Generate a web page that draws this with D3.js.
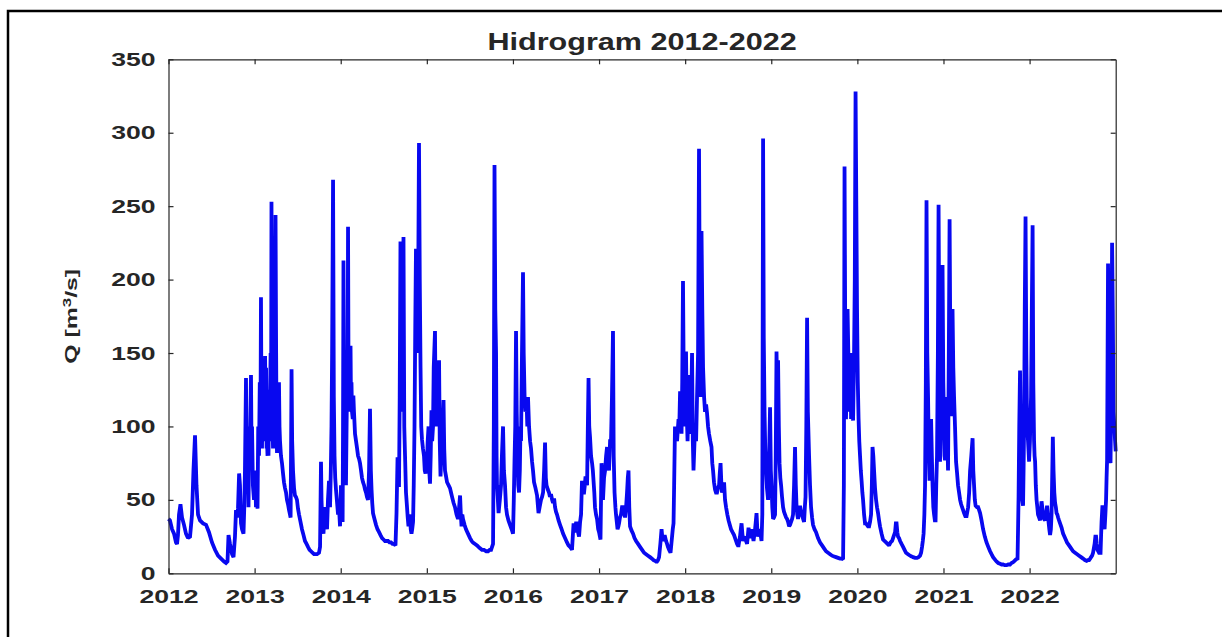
<!DOCTYPE html>
<html>
<head>
<meta charset="utf-8">
<script src="https://cdn.jsdelivr.net/npm/d3@7/dist/d3.min.js"></script>
<style>
  html, body { margin: 0; padding: 0; background: #fff; }
  svg { display: block; }
  text { font-family: "Liberation Sans", Arial, Helvetica, sans-serif; font-weight: bold; fill: #262626; }
</style>
</head>
<body>
<svg id="chart" width="1222" height="637"></svg>
<script>
// ---- labels / ticks ----
const titleText = "Hidrogram 2012-2022";
const yLabelMain = "Q [m";
const yLabelSup = "3";
const yLabelEnd = "/s]";
const xTickYears = [2012, 2013, 2014, 2015, 2016, 2017, 2018, 2019, 2020, 2021, 2022];
const yTickValues = [0, 50, 100, 150, 200, 250, 300, 350];
const xDomain = [2012, 2023];
const yDomain = [0, 350];

// ---- discharge Q [m3/s] by decimal year ----
const flow2012 = [
[2012.000,37],[2012.017,36],[2012.041,30],[2012.064,27],[2012.087,21],[2012.099,20],[2012.110,26],[2012.122,40],[2012.139,47],[2012.157,38],[2012.180,33],[2012.203,27],[2012.226,24],[2012.250,25],[2012.273,40],[2012.290,70],[2012.308,94],[2012.325,60],[2012.343,40],[2012.366,36],[2012.401,34],[2012.436,33],[2012.470,28],[2012.505,21],[2012.540,16],[2012.575,12],[2012.610,10],[2012.645,8],[2012.668,7],[2012.685,8],[2012.697,26],[2012.714,20],[2012.738,13],[2012.755,11],[2012.772,25],[2012.784,43],[2012.795,38],[2012.807,44],[2012.820,68],[2012.830,60],[2012.842,34],[2012.854,30],[2012.871,27],[2012.880,45],[2012.888,70],[2012.900,133],[2012.906,80],[2012.912,60],[2012.920,95],[2012.929,45],[2012.938,100],[2012.947,90],[2012.958,135],[2012.965,80],[2012.970,100],[2012.980,60],[2012.993,50]
];
const flow2013 = [
[2013.005,70],[2013.016,45],[2013.025,60],[2013.034,44],[2013.042,100],[2013.051,80],[2013.060,130],[2013.068,100],[2013.074,188],[2013.080,110],[2013.086,85],[2013.092,120],[2013.098,100],[2013.104,130],[2013.109,90],[2013.116,120],[2013.122,148],[2013.127,100],[2013.133,140],[2013.139,85],[2013.144,90],[2013.150,80],[2013.156,125],[2013.161,80],[2013.167,110],[2013.173,90],[2013.179,120],[2013.186,150],[2013.191,100],[2013.196,253],[2013.202,140],[2013.208,100],[2013.214,85],[2013.219,120],[2013.225,85],[2013.232,130],[2013.243,244],[2013.250,150],[2013.255,100],[2013.260,82],[2013.266,110],[2013.272,82],[2013.278,100],[2013.283,130],[2013.289,100],[2013.295,90],[2013.306,80],[2013.318,75],[2013.330,68],[2013.341,62],[2013.353,58],[2013.365,55],[2013.376,50],[2013.388,47],[2013.400,43],[2013.411,40],[2013.418,38],[2013.423,80],[2013.429,139],[2013.436,90],[2013.446,70],[2013.458,58],[2013.469,53],[2013.480,52],[2013.492,50],[2013.504,44],[2013.516,40],[2013.533,35],[2013.550,30],[2013.568,26],[2013.585,22],[2013.603,20],[2013.620,18],[2013.638,16],[2013.655,15],[2013.672,14],[2013.690,13],[2013.708,13],[2013.725,13],[2013.748,14],[2013.760,18],[2013.771,76],[2013.777,50],[2013.783,40],[2013.790,30],[2013.800,27],[2013.810,40],[2013.818,45],[2013.830,35],[2013.841,30],[2013.852,50],[2013.864,63],[2013.870,50],[2013.876,45],[2013.885,70],[2013.893,100],[2013.900,150],[2013.911,268],[2013.920,120],[2013.928,80],[2013.936,65],[2013.945,57],[2013.955,50],[2013.969,40],[2013.980,45],[2013.992,32]
];
const flow2014 = [
[2014.003,60],[2014.010,40],[2014.015,45],[2014.022,35],[2014.027,100],[2014.032,213],[2014.040,120],[2014.045,150],[2014.050,110],[2014.055,80],[2014.061,60],[2014.068,100],[2014.074,130],[2014.080,110],[2014.085,236],[2014.090,150],[2014.096,110],[2014.102,130],[2014.108,120],[2014.114,155],[2014.120,110],[2014.125,130],[2014.131,110],[2014.140,105],[2014.147,121],[2014.154,110],[2014.166,95],[2014.178,90],[2014.190,85],[2014.201,80],[2014.213,78],[2014.224,75],[2014.236,70],[2014.247,65],[2014.259,62],[2014.271,60],[2014.282,57],[2014.294,55],[2014.305,52],[2014.317,50],[2014.329,70],[2014.340,112],[2014.350,70],[2014.358,57],[2014.366,48],[2014.375,41],[2014.392,37],[2014.410,33],[2014.427,30],[2014.445,28],[2014.462,26],[2014.480,24],[2014.497,23],[2014.514,22],[2014.532,22],[2014.549,22],[2014.566,21],[2014.584,21],[2014.601,20],[2014.619,20],[2014.636,19],[2014.648,41],[2014.654,60],[2014.660,79],[2014.668,60],[2014.677,60],[2014.685,120],[2014.694,226],[2014.703,120],[2014.712,110],[2014.720,160],[2014.729,229],[2014.738,100],[2014.747,80],[2014.758,55],[2014.770,45],[2014.778,38],[2014.787,32],[2014.795,38],[2014.805,40],[2014.813,30],[2014.822,27],[2014.830,30],[2014.840,35],[2014.848,60],[2014.857,100],[2014.866,170],[2014.874,221],[2014.882,180],[2014.892,150],[2014.900,200],[2014.909,293],[2014.918,200],[2014.927,140],[2014.935,100],[2014.944,91],[2014.955,85],[2014.967,80],[2014.976,70],[2014.985,68]
];
const flow2015 = [
[2015.002,75],[2015.010,90],[2015.020,100],[2015.028,70],[2015.037,61],[2015.045,80],[2015.054,111],[2015.062,90],[2015.072,100],[2015.080,140],[2015.095,165],[2015.102,110],[2015.110,100],[2015.118,120],[2015.130,110],[2015.142,145],[2015.150,90],[2015.159,66],[2015.168,80],[2015.176,90],[2015.185,100],[2015.194,118],[2015.202,85],[2015.211,70],[2015.223,66],[2015.235,62],[2015.252,60],[2015.269,58],[2015.281,55],[2015.293,52],[2015.310,48],[2015.327,45],[2015.345,40],[2015.362,37],[2015.375,45],[2015.386,53],[2015.395,40],[2015.403,32],[2015.412,40],[2015.420,37],[2015.438,33],[2015.455,30],[2015.478,27],[2015.502,24],[2015.520,22],[2015.536,21],[2015.560,20],[2015.583,19],[2015.600,18],[2015.618,17],[2015.640,16],[2015.664,16],[2015.690,15],[2015.711,15],[2015.730,16],[2015.746,16],[2015.769,20],[2015.778,100],[2015.786,278],[2015.795,180],[2015.804,150],[2015.810,80],[2015.815,60],[2015.825,50],[2015.833,41],[2015.848,50],[2015.862,60],[2015.872,80],[2015.885,100],[2015.895,70],[2015.908,60],[2015.920,45],[2015.931,40],[2015.948,36],[2015.966,33],[2015.985,30]
];
const flow2016 = [
[2016.001,27],[2016.010,50],[2016.018,76],[2016.027,100],[2016.036,165],[2016.044,110],[2016.053,80],[2016.062,60],[2016.071,55],[2016.080,70],[2016.088,100],[2016.094,90],[2016.105,150],[2016.117,205],[2016.125,150],[2016.135,121],[2016.145,110],[2016.158,118],[2016.167,100],[2016.175,120],[2016.187,100],[2016.199,90],[2016.210,85],[2016.222,76],[2016.233,70],[2016.245,62],[2016.262,58],[2016.280,53],[2016.297,41],[2016.310,45],[2016.326,50],[2016.338,52],[2016.350,55],[2016.362,70],[2016.373,89],[2016.382,65],[2016.390,60],[2016.405,57],[2016.419,55],[2016.430,52],[2016.442,54],[2016.455,50],[2016.466,48],[2016.478,51],[2016.489,45],[2016.500,42],[2016.512,40],[2016.530,36],[2016.547,33],[2016.565,30],[2016.582,27],[2016.605,24],[2016.628,21],[2016.645,19],[2016.663,18],[2016.676,17],[2016.686,16],[2016.704,34],[2016.712,28],[2016.721,30],[2016.732,34],[2016.744,34],[2016.756,28],[2016.768,25],[2016.780,35],[2016.791,40],[2016.802,63],[2016.812,55],[2016.826,55],[2016.835,60],[2016.843,66],[2016.852,62],[2016.861,60],[2016.870,100],[2016.878,133],[2016.886,100],[2016.895,93],[2016.907,80],[2016.919,75],[2016.928,70],[2016.936,63],[2016.945,55],[2016.953,45],[2016.965,40],[2016.977,37],[2016.990,30]
];
const flow2017 = [
[2017.000,28],[2017.010,25],[2017.017,23],[2017.023,50],[2017.029,75],[2017.038,55],[2017.046,50],[2017.058,65],[2017.070,70],[2017.082,80],[2017.093,86],[2017.104,75],[2017.116,70],[2017.128,90],[2017.139,90],[2017.150,120],[2017.162,165],[2017.170,80],[2017.180,55],[2017.190,45],[2017.197,40],[2017.206,35],[2017.215,30],[2017.225,32],[2017.232,34],[2017.243,38],[2017.255,40],[2017.267,45],[2017.279,45],[2017.290,42],[2017.302,38],[2017.314,45],[2017.325,55],[2017.334,65],[2017.342,70],[2017.351,45],[2017.360,32],[2017.378,29],[2017.395,27],[2017.412,24],[2017.430,22],[2017.453,20],[2017.476,18],[2017.500,16],[2017.523,14],[2017.546,13],[2017.569,12],[2017.592,11],[2017.615,10],[2017.633,9],[2017.650,8.5],[2017.662,8],[2017.673,8],[2017.685,9],[2017.697,11],[2017.712,20],[2017.726,30],[2017.734,25],[2017.743,22],[2017.755,25],[2017.766,25],[2017.778,22],[2017.790,20],[2017.800,18],[2017.813,16],[2017.822,15],[2017.830,14],[2017.840,20],[2017.848,25],[2017.856,30],[2017.865,34],[2017.872,60],[2017.882,100],[2017.894,95],[2017.906,90],[2017.915,98],[2017.923,105],[2017.932,100],[2017.941,124],[2017.950,110],[2017.958,95],[2017.966,130],[2017.975,199],[2017.985,120],[2017.993,100]
];
const flow2018 = [
[2018.002,130],[2018.010,151],[2018.018,110],[2018.028,90],[2018.036,110],[2018.045,135],[2018.054,100],[2018.063,95],[2018.072,120],[2018.080,150],[2018.089,90],[2018.097,70],[2018.106,85],[2018.115,100],[2018.127,90],[2018.138,120],[2018.150,150],[2018.161,289],[2018.170,180],[2018.179,120],[2018.185,150],[2018.190,233],[2018.199,180],[2018.208,140],[2018.220,120],[2018.231,110],[2018.243,115],[2018.254,109],[2018.266,100],[2018.277,95],[2018.292,90],[2018.306,86],[2018.315,75],[2018.324,70],[2018.335,62],[2018.347,57],[2018.358,55],[2018.370,55],[2018.382,58],[2018.394,60],[2018.402,68],[2018.411,75],[2018.420,62],[2018.428,55],[2018.440,58],[2018.452,62],[2018.463,50],[2018.475,45],[2018.490,40],[2018.504,36],[2018.518,33],[2018.533,30],[2018.550,28],[2018.568,26],[2018.585,23],[2018.603,20],[2018.612,19],[2018.620,19],[2018.628,22],[2018.637,25],[2018.646,30],[2018.655,34],[2018.663,28],[2018.672,22],[2018.684,24],[2018.695,25],[2018.707,22],[2018.719,20],[2018.727,25],[2018.736,31],[2018.745,28],[2018.754,24],[2018.765,27],[2018.777,30],[2018.786,25],[2018.794,22],[2018.803,26],[2018.812,30],[2018.820,35],[2018.829,41],[2018.838,30],[2018.846,25],[2018.858,28],[2018.870,30],[2018.879,25],[2018.887,22],[2018.896,40],[2018.905,296],[2018.913,160],[2018.922,110],[2018.930,85],[2018.939,70],[2018.950,58],[2018.963,50],[2018.975,80],[2018.986,113]
];
const flow2019 = [
[2018.995,70],[2019.003,60],[2019.012,45],[2019.021,37],[2019.032,38],[2019.044,40],[2019.052,80],[2019.061,151],[2019.070,120],[2019.079,145],[2019.088,100],[2019.096,75],[2019.105,65],[2019.114,60],[2019.125,52],[2019.137,45],[2019.148,42],[2019.160,40],[2019.172,38],[2019.183,37],[2019.195,35],[2019.207,32],[2019.218,33],[2019.230,35],[2019.242,37],[2019.253,40],[2019.265,60],[2019.276,86],[2019.285,60],[2019.294,45],[2019.302,40],[2019.311,37],[2019.322,40],[2019.334,46],[2019.346,42],[2019.358,40],[2019.370,37],[2019.381,35],[2019.390,45],[2019.398,52],[2019.407,100],[2019.416,174],[2019.425,110],[2019.439,80],[2019.450,60],[2019.462,45],[2019.474,38],[2019.485,33],[2019.502,30],[2019.520,28],[2019.543,24],[2019.567,21],[2019.590,19],[2019.613,17],[2019.636,15],[2019.660,14],[2019.683,13],[2019.706,12],[2019.730,11.5],[2019.752,11],[2019.775,10.5],[2019.799,10],[2019.816,10],[2019.834,9.5],[2019.843,60],[2019.851,277],[2019.860,150],[2019.868,105],[2019.877,140],[2019.886,180],[2019.895,150],[2019.903,130],[2019.912,110],[2019.920,150],[2019.927,105],[2019.935,120],[2019.943,110],[2019.950,104],[2019.960,140],[2019.970,200],[2019.979,328],[2019.988,250]
];
const flow2020 = [
[2019.996,180],[2020.005,130],[2020.014,105],[2020.022,90],[2020.031,80],[2020.040,70],[2020.049,63],[2020.058,55],[2020.066,50],[2020.078,40],[2020.089,34],[2020.100,34],[2020.112,33],[2020.124,32],[2020.136,32],[2020.147,35],[2020.159,40],[2020.168,60],[2020.176,86],[2020.185,80],[2020.194,70],[2020.205,58],[2020.217,50],[2020.228,45],[2020.240,41],[2020.252,36],[2020.263,32],[2020.281,27],[2020.298,23],[2020.315,22],[2020.333,21],[2020.350,20],[2020.368,19],[2020.385,21],[2020.403,22],[2020.420,25],[2020.438,28],[2020.447,34],[2020.455,34],[2020.464,28],[2020.472,25],[2020.484,24],[2020.496,22],[2020.513,20],[2020.531,18],[2020.548,16],[2020.565,14],[2020.588,13],[2020.612,12],[2020.630,11.5],[2020.647,11],[2020.670,10.5],[2020.693,10.5],[2020.710,11],[2020.728,12],[2020.740,14],[2020.751,18],[2020.760,22],[2020.769,27],[2020.778,40],[2020.786,60],[2020.795,130],[2020.803,254],[2020.812,150],[2020.821,120],[2020.830,80],[2020.838,63],[2020.847,80],[2020.856,105],[2020.865,80],[2020.873,60],[2020.882,45],[2020.891,40],[2020.900,36],[2020.908,36],[2020.916,60],[2020.925,80],[2020.935,150],[2020.943,251],[2020.952,150],[2020.960,76],[2020.968,100],[2020.978,120],[2020.984,160],[2020.989,210],[2020.998,130]
];
const flow2021 = [
[2021.007,100],[2021.012,80],[2021.018,77],[2021.027,100],[2021.036,120],[2021.045,90],[2021.053,70],[2021.062,150],[2021.071,241],[2021.080,150],[2021.088,107],[2021.096,140],[2021.105,180],[2021.114,140],[2021.123,120],[2021.134,100],[2021.146,76],[2021.158,68],[2021.169,60],[2021.181,55],[2021.193,50],[2021.205,47],[2021.216,45],[2021.228,43],[2021.239,41],[2021.253,39],[2021.268,39],[2021.277,42],[2021.286,45],[2021.298,55],[2021.309,70],[2021.323,80],[2021.338,92],[2021.346,70],[2021.355,60],[2021.364,50],[2021.373,46],[2021.388,45],[2021.402,45],[2021.414,43],[2021.425,41],[2021.442,36],[2021.460,30],[2021.480,25],[2021.500,21],[2021.520,18],[2021.541,15],[2021.558,13],[2021.576,11],[2021.596,9.5],[2021.616,8],[2021.636,7],[2021.657,6.5],[2021.675,6],[2021.692,6],[2021.712,5.5],[2021.733,5.5],[2021.752,6],[2021.773,6],[2021.790,7],[2021.808,7.5],[2021.825,8.5],[2021.843,9.5],[2021.860,10],[2021.866,30],[2021.872,52],[2021.880,100],[2021.889,138],[2021.898,90],[2021.907,70],[2021.915,50],[2021.924,46],[2021.930,70],[2021.936,100],[2021.944,180],[2021.953,243],[2021.962,150],[2021.971,100],[2021.982,90],[2021.994,76]
];
const flow2022 = [
[2022.004,90],[2022.012,110],[2022.017,120],[2022.026,180],[2022.035,237],[2022.043,130],[2022.052,90],[2022.058,80],[2022.064,76],[2022.072,60],[2022.081,50],[2022.090,45],[2022.098,40],[2022.110,38],[2022.122,36],[2022.130,42],[2022.139,49],[2022.147,45],[2022.156,40],[2022.168,37],[2022.180,36],[2022.191,40],[2022.203,46],[2022.212,40],[2022.220,35],[2022.229,30],[2022.238,26],[2022.247,30],[2022.255,40],[2022.261,60],[2022.270,93],[2022.278,70],[2022.287,55],[2022.296,48],[2022.305,45],[2022.313,41],[2022.322,40],[2022.331,38],[2022.342,36],[2022.354,34],[2022.372,31],[2022.389,27],[2022.412,24],[2022.435,21],[2022.458,19],[2022.482,17],[2022.505,15],[2022.528,14],[2022.552,13],[2022.575,12],[2022.598,11],[2022.621,10],[2022.642,9],[2022.662,8.5],[2022.676,9],[2022.691,9],[2022.703,10],[2022.714,11],[2022.726,12],[2022.737,14],[2022.746,17],[2022.755,20],[2022.764,25],[2022.772,25],[2022.780,20],[2022.789,16],[2022.798,15],[2022.807,14],[2022.815,14],[2022.824,14],[2022.830,25],[2022.836,35],[2022.845,45],[2022.853,45],[2022.862,35],[2022.871,30],[2022.880,40],[2022.888,50],[2022.894,65],[2022.900,77],[2022.906,150],[2022.911,211],[2022.920,150],[2022.929,100],[2022.935,80],[2022.940,75],[2022.948,120],[2022.958,225],[2022.966,180],[2022.975,110],[2022.984,100],[2022.993,90],[2023.000,83]
];

// ---- layout ----
const svg = d3.select("#chart");
const W = 1222, H = 637;
const plot = { left: 168.5, top: 59.3, right: 1115.7, bottom: 573.3 };
const textStretch = 1.4;
const axisColor = "#262626";

svg.append("rect").attr("width", W).attr("height", H).attr("fill", "#fff");

// outer frame (left and top edges visible)
svg.append("path")
  .attr("d", `M8,${H} V11 H${W}`)
  .attr("fill", "none").attr("stroke", "#000").attr("stroke-width", 2.5);

const x = d3.scaleLinear().domain(xDomain).range([plot.left, plot.right]);
const y = d3.scaleLinear().domain(yDomain).range([plot.bottom, plot.top]);

const data = [].concat(flow2012, flow2013, flow2014, flow2015, flow2016, flow2017,
                       flow2018, flow2019, flow2020, flow2021, flow2022)
  .map(([t, q]) => ({ t, q }));

// line
const line = d3.line().x(d => x(d.t)).y(d => y(d.q));
svg.append("path")
  .datum(data)
  .attr("d", line)
  .attr("fill", "none")
  .attr("stroke", "#0808f0")
  .attr("stroke-width", 3.8)
  .attr("stroke-linejoin", "miter")
  .attr("stroke-miterlimit", 1.5);

// axes
function styleAxis(g) {
  g.select(".domain").attr("stroke", axisColor).attr("stroke-width", 1.2);
  g.selectAll(".tick line").attr("stroke", axisColor).attr("stroke-width", 1.2);
}

const gx = svg.append("g")
  .attr("transform", `translate(0,${plot.bottom})`)
  .call(d3.axisBottom(x).tickValues(xTickYears).tickFormat(d3.format("d"))
        .tickSizeInner(-5).tickSizeOuter(0).tickPadding(16));
styleAxis(gx);
gx.selectAll(".tick text")
  .attr("font-size", 19).attr("fill", axisColor)
  .attr("font-family", "'Liberation Sans', Arial, sans-serif").attr("font-weight", "bold")
  .attr("transform", `scale(${textStretch},1)`);

const gy = svg.append("g")
  .attr("transform", `translate(${plot.left},0)`)
  .call(d3.axisLeft(y).tickValues(yTickValues).tickFormat(d3.format("d"))
        .tickSizeInner(-5).tickSizeOuter(0).tickPadding(13));
styleAxis(gy);
gy.selectAll(".tick text")
  .attr("font-size", 19).attr("fill", axisColor)
  .attr("font-family", "'Liberation Sans', Arial, sans-serif").attr("font-weight", "bold")
  .attr("x", -13 / textStretch)
  .attr("transform", `scale(${textStretch},1)`);

const gt = svg.append("g")
  .attr("transform", `translate(0,${plot.top})`)
  .call(d3.axisTop(x).tickValues(xTickYears).tickFormat("").tickSizeInner(-5).tickSizeOuter(0));
styleAxis(gt);

const gr = svg.append("g")
  .attr("transform", `translate(${plot.right},0)`)
  .call(d3.axisRight(y).tickValues(yTickValues).tickFormat("").tickSizeInner(-5).tickSizeOuter(0));
styleAxis(gr);

// title
svg.append("text")
  .attr("transform", `translate(${(plot.left + plot.right) / 2},50) scale(1.33,1)`)
  .attr("text-anchor", "middle")
  .attr("font-size", 23)
  .attr("fill", "#111")
  .text(titleText);

// y label
const yl = svg.append("text")
  .attr("transform", `translate(77,${(plot.top + plot.bottom) / 2}) rotate(-90) scale(1.55,1)`)
  .attr("text-anchor", "middle")
  .attr("font-size", 16)
  .attr("fill", axisColor);
yl.append("tspan").text(yLabelMain);
yl.append("tspan").attr("font-size", 11).attr("dy", -6).text(yLabelSup);
yl.append("tspan").attr("dy", 6).text(yLabelEnd);
</script>
</body>
</html>
